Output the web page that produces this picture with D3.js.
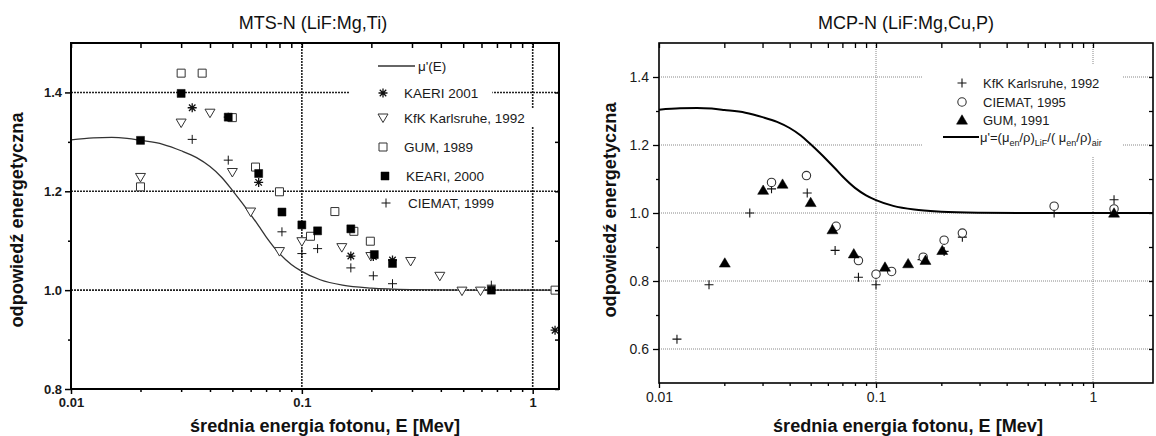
<!DOCTYPE html>
<html>
<head>
<meta charset="utf-8">
<script src="https://cdn.jsdelivr.net/npm/d3@7"></script>
<style>
  body { margin: 0; background: #fff; }
  svg text { font-family: "Liberation Sans", Arial, sans-serif; }
</style>
</head>
<body>
<div id="chart"></div>
<script>
// mu'(E) curve, same in both panels
var curveE = [0.01, 0.0125, 0.015, 0.0175, 0.02, 0.025, 0.03, 0.035, 0.04, 0.045, 0.05, 0.055, 0.06, 0.065, 0.07, 0.08, 0.09, 0.1, 0.12, 0.15, 0.2, 0.3, 0.5, 1, 2];
var curveR = [1.304, 1.308, 1.309, 1.307, 1.303, 1.295, 1.282, 1.268, 1.25, 1.228, 1.202, 1.177, 1.153, 1.13, 1.108, 1.074, 1.052, 1.038, 1.021, 1.01, 1.004, 1.001, 1.0, 1.0, 1.0];

// left panel: MTS-N (LiF:Mg,Ti)
var mtsKaeri2001E = [0.0335, 0.048, 0.065, 0.163, 0.204, 0.247, 1.25];
var mtsKaeri2001R = [1.369, 1.35, 1.218, 1.069, 1.068, 1.061, 0.919];
var mtsKfkE = [0.02, 0.03, 0.04, 0.05, 0.06, 0.08, 0.1, 0.149, 0.199, 0.296, 0.396, 0.494, 0.594];
var mtsKfkR = [1.228, 1.338, 1.358, 1.238, 1.158, 1.078, 1.098, 1.086, 1.068, 1.058, 1.028, 0.998, 0.998];
var mtsGumE = [0.02, 0.03, 0.037, 0.05, 0.063, 0.08, 0.109, 0.139, 0.168, 0.198, 1.25];
var mtsGumR = [1.209, 1.439, 1.439, 1.349, 1.249, 1.199, 1.109, 1.159, 1.119, 1.099, 1.0];
var mtsKeari2000E = [0.02, 0.03, 0.048, 0.065, 0.082, 0.1, 0.117, 0.163, 0.206, 0.247, 0.662];
var mtsKeari2000R = [1.303, 1.398, 1.35, 1.236, 1.158, 1.132, 1.12, 1.124, 1.072, 1.054, 1.0];
var mtsCiematE = [0.0335, 0.048, 0.082, 0.1, 0.117, 0.163, 0.204, 0.247, 0.662];
var mtsCiematR = [1.305, 1.263, 1.118, 1.074, 1.084, 1.045, 1.029, 1.013, 1.01];

// right panel: MCP-N (LiF:Mg,Cu,P)
var mcpKfkE = [0.0121, 0.017, 0.0262, 0.033, 0.0482, 0.0648, 0.083, 0.1, 0.163, 0.206, 0.25, 0.662, 1.25];
var mcpKfkR = [0.629, 0.789, 1.0, 1.071, 1.059, 0.89, 0.811, 0.789, 0.863, 0.887, 0.929, 1.0, 1.039];
var mcpCiematE = [0.033, 0.0478, 0.0655, 0.083, 0.1, 0.118, 0.165, 0.206, 0.25, 0.662, 1.25];
var mcpCiematR = [1.09, 1.11, 0.961, 0.86, 0.82, 0.828, 0.87, 0.92, 0.941, 1.02, 1.012];
var mcpGumE = [0.0201, 0.0302, 0.0371, 0.05, 0.063, 0.079, 0.11, 0.1406, 0.169, 0.202, 1.25];
var mcpGumR = [0.853, 1.067, 1.085, 1.031, 0.951, 0.88, 0.841, 0.851, 0.861, 0.89, 1.0];

var xMajor = [0.01, 0.1, 1];
var xMinor = [0.02, 0.03, 0.04, 0.05, 0.06, 0.07, 0.08, 0.09, 0.2, 0.3, 0.4, 0.5, 0.6, 0.7, 0.8, 0.9];
var leftYMajor = [0.8, 1.0, 1.2, 1.4];
var leftYMinor = [0.9, 1.1, 1.3];
var leftGridY = [1.0, 1.2, 1.4];
var rightYMajor = [0.6, 0.8, 1.0, 1.2, 1.4];
var rightYMinor = [0.7, 0.9, 1.1, 1.3];

var xTitle = "średnia energia fotonu, E [Mev]";
var yTitle = "odpowiedź energetyczna";

// little custom marker shapes (size = half width)
var plusMark = { draw: function(c, r) { c.moveTo(-r, 0); c.lineTo(r, 0); c.moveTo(0, -r); c.lineTo(0, r); } };
var starMark = { draw: function(c, r) {
  var d = r * 0.72;
  c.moveTo(-r, 0); c.lineTo(r, 0); c.moveTo(0, -r); c.lineTo(0, r);
  c.moveTo(-d, -d); c.lineTo(d, d); c.moveTo(-d, d); c.lineTo(d, -d);
} };
var squareMark = { draw: function(c, r) { c.rect(-r, -r, 2 * r, 2 * r); } };
var triDown = { draw: function(c, r) { c.moveTo(-r, -r * 0.8); c.lineTo(r, -r * 0.8); c.lineTo(0, r * 0.9); c.closePath(); } };
var triUp = { draw: function(c, r) { c.moveTo(0, -r * 0.95); c.lineTo(r, r * 0.75); c.lineTo(-r, r * 0.75); c.closePath(); } };
var circleMark = { draw: function(c, r) { c.moveTo(r, 0); c.arc(0, 0, r, 0, 2 * Math.PI); } };

var svg = d3.select("#chart").append("svg")
  .attr("width", 1156)
  .attr("height", 436);

function zip(e, r) { return e.map(function(v, i) { return {e: v, r: r[i]}; }); }

function drawPanel(p) {
  var x = d3.scaleLog().domain(p.xDomain).range([p.left, p.right]);
  var y = d3.scaleLinear().domain(p.yDomain).range([p.bottom, p.top]);
  var g = svg.append("g");

  g.append("clipPath").attr("id", p.id + "clip")
    .append("rect").attr("x", p.left).attr("y", p.top)
    .attr("width", p.right - p.left).attr("height", p.bottom - p.top);

  // grid
  var grid = g.append("g").attr("stroke", p.gridColor).attr("stroke-width", p.gridWidth)
    .attr("stroke-dasharray", p.gridDash);
  grid.selectAll(".gy").data(p.gridY).enter().append("line")
    .attr("x1", p.left).attr("x2", p.right)
    .attr("y1", function(d) { return y(d); }).attr("y2", function(d) { return y(d); });
  grid.selectAll(".gx").data([0.1, 1]).enter().append("line")
    .attr("y1", p.top).attr("y2", p.bottom)
    .attr("x1", function(d) { return x(d); }).attr("x2", function(d) { return x(d); });

  // curve
  var line = d3.line().x(function(d) { return x(d.e); }).y(function(d) { return y(d.r); })
    .curve(d3.curveMonotoneX);
  g.append("path").datum(zip(curveE, curveR))
    .attr("clip-path", "url(#" + p.id + "clip)")
    .attr("fill", "none").attr("stroke", p.curveColor).attr("stroke-width", p.curveWidth)
    .attr("d", line);

  // points
  p.series.forEach(function(s) {
    g.append("g").selectAll("path").data(zip(s.e, s.r)).enter().append("path")
      .attr("transform", function(d) { return "translate(" + x(d.e) + "," + y(d.r) + ")"; })
      .attr("d", d3.symbol().type(s.type).size(s.size))
      .attr("fill", s.fill).attr("stroke", s.stroke).attr("stroke-width", s.sw);
  });

  // legend
  var lg = g.append("g");
  if (p.legendBox) {
    lg.append("rect").attr("x", p.legendBox[0]).attr("y", p.legendBox[1])
      .attr("width", p.legendBox[2]).attr("height", p.legendBox[3]).attr("fill", "#fff");
  }
  p.legend.forEach(function(it) {
    var row = lg.append("g");
    var bg = row.append("rect").attr("fill", "#fff");
    var t = row.append("text").attr("x", it.tx).attr("y", it.y + 5)
      .attr("font-size", p.legendFont).attr("fill", "#1a1a1a");
    if (it.parts) {
      it.parts.forEach(function(pt) {
        var ts = t.append("tspan").text(pt[0]);
        if (pt[1]) ts.attr("dy", pt[1]);
        if (pt[2]) ts.attr("font-size", pt[2]);
      });
    } else {
      t.text(it.label);
    }
    if (p.rowBg) {
      var w = t.node().getComputedTextLength();
      bg.attr("x", p.rowBg).attr("y", it.y - 9).attr("width", it.tx + w + 14 - p.rowBg).attr("height", 18);
    } else {
      bg.remove();
    }
    if (it.line) {
      row.append("line").attr("x1", it.line[0]).attr("x2", it.line[1])
        .attr("y1", it.y).attr("y2", it.y)
        .attr("stroke", p.curveColor).attr("stroke-width", p.curveWidth);
    } else {
      var s = p.series[it.s];
      row.append("path").attr("transform", "translate(" + it.sx + "," + it.y + ")")
        .attr("d", d3.symbol().type(s.type).size(s.size))
        .attr("fill", s.fill).attr("stroke", s.stroke).attr("stroke-width", s.sw);
    }
  });

  // axes
  function axisStyle(sel) {
    sel.select(".domain").remove();
    sel.selectAll("line").attr("stroke", "#000").attr("stroke-width", p.tickWidth);
    sel.selectAll("text").attr("fill", "#1a1a1a").attr("font-size", p.tickFont)
      .attr("font-weight", p.tickWeight).attr("font-family", "Liberation Sans, Arial, sans-serif");
  }
  g.append("g").attr("transform", "translate(0," + p.bottom + ")")
    .call(d3.axisBottom(x).tickValues(xMajor).tickSize(p.tickMajor).tickPadding(4)
      .tickFormat(function(d) { return d3.format("~g")(d); }))
    .call(axisStyle);
  g.append("g").attr("transform", "translate(0," + p.bottom + ")")
    .call(d3.axisBottom(x).tickValues(xMinor).tickSize(p.tickMinor).tickFormat(""))
    .call(axisStyle);
  g.append("g").attr("transform", "translate(0," + p.top + ")")
    .call(d3.axisTop(x).tickValues(xMajor.concat(xMinor)).tickSize(-p.tickMajor).tickFormat(""))
    .call(axisStyle);
  g.append("g").attr("transform", "translate(" + p.left + ",0)")
    .call(d3.axisLeft(y).tickValues(p.yMajor).tickSize(p.tickMajor + 1).tickPadding(p.yPad)
      .tickFormat(d3.format(".1f")))
    .call(axisStyle);
  g.append("g").attr("transform", "translate(" + p.left + ",0)")
    .call(d3.axisLeft(y).tickValues(p.yMinor).tickSize(p.tickMinor).tickFormat(""))
    .call(axisStyle);
  g.append("g").attr("transform", "translate(" + p.right + ",0)")
    .call(d3.axisRight(y).tickValues(p.yMajor.concat(p.yMinor)).tickSize(-p.tickMinor - 1).tickFormat(""))
    .call(axisStyle);

  g.append("rect").attr("x", p.left).attr("y", p.top)
    .attr("width", p.right - p.left).attr("height", p.bottom - p.top)
    .attr("fill", "none").attr("stroke", "#000").attr("stroke-width", p.frameWidth);

  // titles
  g.append("text").attr("x", p.titleX).attr("y", 29).attr("text-anchor", "middle")
    .attr("font-size", 18).attr("fill", "#111").text(p.title);
  g.append("text").attr("x", p.xTitleX).attr("y", 432).attr("text-anchor", "middle")
    .attr("font-family", "Open Sans, sans-serif").attr("font-weight", "bold")
    .attr("font-size", 18).attr("fill", "#111")
    .attr("textLength", 270).attr("lengthAdjust", "spacingAndGlyphs").text(xTitle);
  g.append("text").attr("transform", "translate(" + p.yTitleX + "," + p.yTitleY + ") rotate(-90)")
    .attr("text-anchor", "middle")
    .attr("font-family", "Open Sans, sans-serif").attr("font-weight", "bold")
    .attr("font-size", 18).attr("fill", "#111")
    .attr("textLength", 215).attr("lengthAdjust", "spacingAndGlyphs").text(yTitle);
}

drawPanel({
  id: "mts", left: 71, right: 559, top: 43, bottom: 389,
  xDomain: [0.01, 1.3], yDomain: [0.8, 1.5],
  yMajor: leftYMajor, yMinor: leftYMinor, gridY: leftGridY,
  gridColor: "#222", gridWidth: 1.6, gridDash: "2,1",
  curveColor: "#333", curveWidth: 1.3,
  tickMajor: 5, tickMinor: 3, tickWidth: 1.5, tickFont: 13, tickWeight: "bold", yPad: 3,
  frameWidth: 2,
  title: "MTS-N (LiF:Mg,Ti)", titleX: 313, xTitleX: 325, yTitleX: 23, yTitleY: 220,
  series: [
    {e: mtsKaeri2001E, r: mtsKaeri2001R, type: starMark, size: 4.5, fill: "none", stroke: "#111", sw: 1.3},
    {e: mtsKfkE, r: mtsKfkR, type: triDown, size: 5, fill: "#fff", stroke: "#333", sw: 1},
    {e: mtsGumE, r: mtsGumR, type: squareMark, size: 4, fill: "#fff", stroke: "#333", sw: 1},
    {e: mtsKeari2000E, r: mtsKeari2000R, type: squareMark, size: 4, fill: "#000", stroke: "#000", sw: 0.5},
    {e: mtsCiematE, r: mtsCiematR, type: plusMark, size: 4.5, fill: "none", stroke: "#111", sw: 1}
  ],
  legendFont: 13.5, rowBg: 350,
  legend: [
    {label: "\u03bc'(E)", tx: 418, y: 66, line: [378, 415]},
    {label: "KAERI 2001", tx: 404, y: 93, s: 0, sx: 383},
    {label: "KfK Karlsruhe, 1992", tx: 404, y: 118, s: 1, sx: 383},
    {label: "GUM, 1989", tx: 404, y: 147, s: 2, sx: 383},
    {label: "KEARI, 2000", tx: 406, y: 176, s: 3, sx: 385},
    {label: "CIEMAT, 1999", tx: 408, y: 203, s: 4, sx: 386}
  ]
});

drawPanel({
  id: "mcp", left: 659, right: 1153, top: 43, bottom: 383,
  xDomain: [0.01, 1.89], yDomain: [0.5, 1.5],
  yMajor: rightYMajor, yMinor: rightYMinor, gridY: rightYMajor,
  gridColor: "#888", gridWidth: 1, gridDash: "1,1",
  curveColor: "#000", curveWidth: 2,
  tickMajor: 5, tickMinor: 3, tickWidth: 1.3, tickFont: 14, tickWeight: "normal", yPad: 4,
  frameWidth: 1.6,
  title: "MCP-N (LiF:Mg,Cu,P)", titleX: 906, xTitleX: 908, yTitleX: 616, yTitleY: 210,
  series: [
    {e: mcpKfkE, r: mcpKfkR, type: plusMark, size: 4.5, fill: "none", stroke: "#111", sw: 1.1},
    {e: mcpCiematE, r: mcpCiematR, type: circleMark, size: 4.2, fill: "#fff", stroke: "#333", sw: 1.1},
    {e: mcpGumE, r: mcpGumR, type: triUp, size: 5.5, fill: "#000", stroke: "#000", sw: 0.5}
  ],
  legendFont: 13, rowBg: null, legendBox: [923, 65, 200, 92],
  legend: [
    {label: "KfK Karlsruhe, 1992", tx: 983, y: 83, s: 0, sx: 962},
    {label: "CIEMAT, 1995", tx: 983, y: 102, s: 1, sx: 962},
    {label: "GUM, 1991", tx: 983, y: 120, s: 2, sx: 962},
    {tx: 980, y: 137, line: [943, 979],
     parts: [["\u03bc'=(\u03bc"], ["en", 4, 9], ["/\u03c1)", -4], ["LiF", 4, 9], ["/( \u03bc", -4], ["en", 4, 9], ["/\u03c1)", -4], ["air", 4, 9]]}
  ]
});
</script>
</body>
</html>
